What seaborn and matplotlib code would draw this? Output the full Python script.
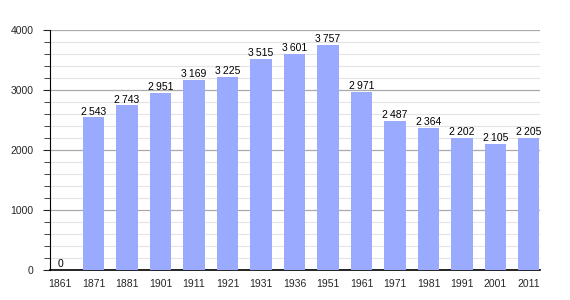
import matplotlib
matplotlib.use("Agg")
import matplotlib.pyplot as plt
import seaborn as sns
import pandas as pd
from matplotlib.ticker import MultipleLocator

years = ["1861", "1871", "1881", "1901", "1911", "1921", "1931", "1936",
         "1951", "1961", "1971", "1981", "1991", "2001", "2011"]
population = [0, 2543, 2743, 2951, 3169, 3225, 3515, 3601,
              3757, 2971, 2487, 2364, 2202, 2105, 2205]

df = pd.DataFrame({"year": years, "pop": population})

sns.set_style("white")
plt.rcParams['font.family'] = ['Liberation Sans', 'DejaVu Sans']

fig = plt.figure(figsize=(5.7, 3.0), dpi=100)
ax = fig.add_axes([50/570, 30/300, 490/570, 240/300])

sns.barplot(data=df, x="year", y="pop", color="#99aaff", saturation=1,
            width=0.63, linewidth=0, edgecolor="none", ax=ax, zorder=3)

ax.set_ylim(0, 4000)
ax.set_xlim(-0.3, len(years) - 1 + 0.33)
ax.yaxis.set_major_locator(MultipleLocator(1000))
ax.yaxis.set_minor_locator(MultipleLocator(200))
ax.grid(which="major", axis="y", color="#aaaaaa", linewidth=0.9, zorder=0)
ax.grid(which="minor", axis="y", color="#e4e4e4", linewidth=0.8, zorder=0)
ax.set_axisbelow(True)

for s in ["top", "right"]:
    ax.spines[s].set_visible(False)
ax.spines["left"].set_color("black")
ax.spines["left"].set_linewidth(0.8)
ax.spines["bottom"].set_color("black")
ax.spines["bottom"].set_linewidth(1.2)

ax.tick_params(axis="y", which="major", left=True, length=5, width=0.8,
               labelsize=7.5, pad=7)
ax.tick_params(axis="y", which="minor", left=True, length=4, width=0.6)
ax.tick_params(axis="x", bottom=False, labelsize=7.5, pad=3)
ax.set_xlabel("")
ax.set_ylabel("")

for i, v in enumerate(population):
    txt = f"{v:,}".replace(",", "\u2009")
    ax.text(i, v + 15, txt, ha="center", va="bottom", fontsize=7.5,
            color="black", zorder=4)

fig.savefig("out.png", dpi=100)
